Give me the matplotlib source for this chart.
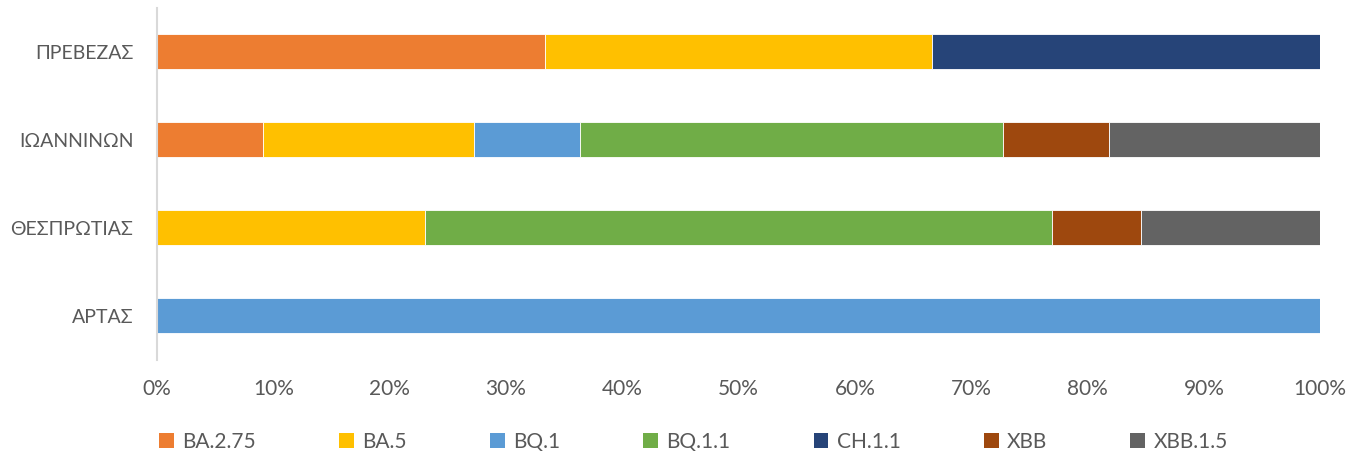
import numpy as np
import matplotlib
matplotlib.use("Agg")
import matplotlib.pyplot as plt
from matplotlib.patches import Patch
from matplotlib.ticker import PercentFormatter

plt.rcParams['font.family'] = ['Lato', 'DejaVu Sans']

# regions, bottom to top as drawn
regions = ["ΑΡΤΑΣ", "ΘΕΣΠΡΩΤΙΑΣ", "ΙΩΑΝΝΙΝΩΝ", "ΠΡΕΒΕΖΑΣ"]
variants = ["BA.2.75", "BA.5", "BQ.1", "BQ.1.1", "CH.1.1", "XBB", "XBB.1.5"]

# sample counts per variant, same order as regions
ba275 = [0, 0, 1, 1]
ba5 = [0, 3, 2, 1]
bq1 = [1, 0, 1, 0]
bq11 = [0, 7, 4, 0]
ch11 = [0, 0, 0, 1]
xbb = [0, 1, 1, 0]
xbb15 = [0, 2, 2, 0]

colors = ["#ED7D31", "#FFC000", "#5B9BD5", "#70AD47", "#264478", "#9E480E", "#636363"]

counts = np.array([ba275, ba5, bq1, bq11, ch11, xbb, xbb15], dtype=float)
shares = counts / counts.sum(axis=0) * 100

fig = plt.figure(figsize=(13.68, 4.59), dpi=100)
ax = fig.add_axes([0.1148, 0.216, 0.8502, 0.767])

y = np.arange(len(regions))
left = np.zeros(len(regions))
for vals, name, c in zip(shares, variants, colors):
    ax.barh(y, vals, left=left, height=0.4, color=c, label=name,
            edgecolor='white', linewidth=0.6)
    left += vals

ax.set_xlim(0, 100)
ax.set_ylim(-0.5, len(regions) - 0.5)
ax.set_yticks(y)
ax.set_yticklabels(regions)
ax.set_xticks(np.arange(0, 101, 10))
ax.xaxis.set_major_formatter(PercentFormatter(decimals=0))
ax.tick_params(length=0, labelsize=15, labelcolor='#595959')
ax.tick_params(axis='x', pad=14)
ax.tick_params(axis='y', pad=17, labelsize=14)
for s in ['top', 'right', 'bottom']:
    ax.spines[s].set_visible(False)
ax.spines['left'].set_color('#D9D9D9')
ax.spines['left'].set_linewidth(1.5)

handles = [Patch(facecolor=c, label=n) for n, c in zip(variants, colors)]
fig.legend(handles=handles, loc='center', bbox_to_anchor=(0.507, 0.038), ncol=7,
           frameon=False, fontsize=15, labelcolor='#595959',
           handlelength=0.7, handleheight=0.7, handletextpad=0.4, columnspacing=4.0)

fig.savefig("out.png", dpi=100)
